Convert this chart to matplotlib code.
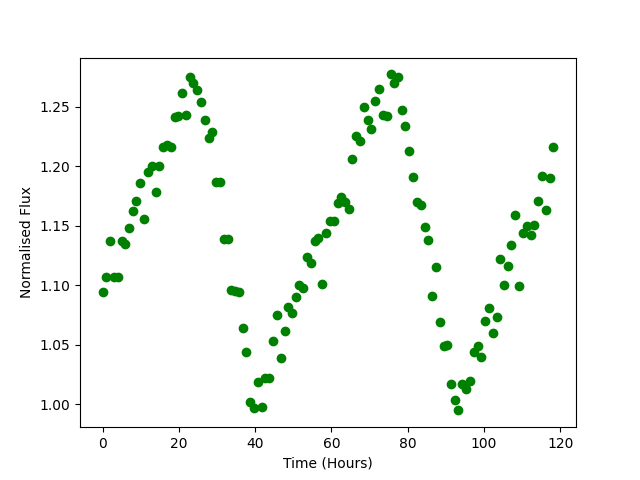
import matplotlib
matplotlib.use('Agg')
import matplotlib.pyplot as plt

hours = [0.0, 1.0, 2.0, 3.0, 4.0, 5.0, 6.0, 7.0, 7.9, 8.9,
         9.9, 10.9, 11.9, 12.9, 13.9, 14.9, 15.9, 16.9, 17.9, 18.9,
         19.9, 20.9, 21.8, 22.8, 23.8, 24.8, 25.8, 26.8, 27.8, 28.8,
         29.8, 30.8, 31.8, 32.8, 33.8, 34.8, 35.7, 36.7, 37.7, 38.7,
         39.7, 40.7, 41.7, 42.7, 43.7, 44.7, 45.7, 46.7, 47.7, 48.7,
         49.6, 50.6, 51.6, 52.6, 53.6, 54.6, 55.6, 56.6, 57.6, 58.6,
         59.6, 60.6, 61.6, 62.6, 63.6, 64.5, 65.5, 66.5, 67.5, 68.5,
         69.5, 70.5, 71.5, 72.5, 73.5, 74.5, 75.5, 76.5, 77.5, 78.4,
         79.4, 80.4, 81.4, 82.4, 83.4, 84.4, 85.4, 86.4, 87.4, 88.4,
         89.4, 90.4, 91.4, 92.4, 93.3, 94.3, 95.3, 96.3, 97.3, 98.3,
         99.3, 100.3, 101.3, 102.3, 103.3, 104.3, 105.3, 106.3, 107.2, 108.2,
         109.2, 110.2, 111.2, 112.2, 113.2, 114.2, 115.2, 116.2, 117.2, 118.2]

flux = [1.094, 1.107, 1.137, 1.107, 1.107, 1.137, 1.135, 1.148, 1.162, 1.171,
        1.186, 1.156, 1.195, 1.200, 1.178, 1.200, 1.216, 1.218, 1.216, 1.241,
        1.242, 1.261, 1.243, 1.275, 1.270, 1.264, 1.254, 1.239, 1.224, 1.229,
        1.187, 1.187, 1.139, 1.139, 1.096, 1.095, 1.094, 1.064, 1.044, 1.002,
        0.997, 1.019, 0.998, 1.022, 1.022, 1.053, 1.075, 1.039, 1.062, 1.082,
        1.077, 1.090, 1.100, 1.098, 1.124, 1.119, 1.137, 1.140, 1.101, 1.144,
        1.154, 1.154, 1.169, 1.174, 1.170, 1.164, 1.206, 1.225, 1.221, 1.250,
        1.239, 1.231, 1.255, 1.265, 1.243, 1.242, 1.277, 1.270, 1.275, 1.247,
        1.234, 1.213, 1.191, 1.170, 1.167, 1.149, 1.138, 1.091, 1.115, 1.069,
        1.049, 1.050, 1.017, 1.004, 0.995, 1.017, 1.013, 1.020, 1.044, 1.049,
        1.040, 1.070, 1.081, 1.060, 1.073, 1.122, 1.100, 1.116, 1.134, 1.159,
        1.099, 1.144, 1.150, 1.142, 1.151, 1.171, 1.192, 1.163, 1.190, 1.216]

plt.figure(figsize=(6.4, 4.8), dpi=100)
plt.plot(hours, flux, 'o', color='green')
plt.xlabel('Time (Hours)')
plt.ylabel('Normalised Flux')
plt.savefig('out.png')
